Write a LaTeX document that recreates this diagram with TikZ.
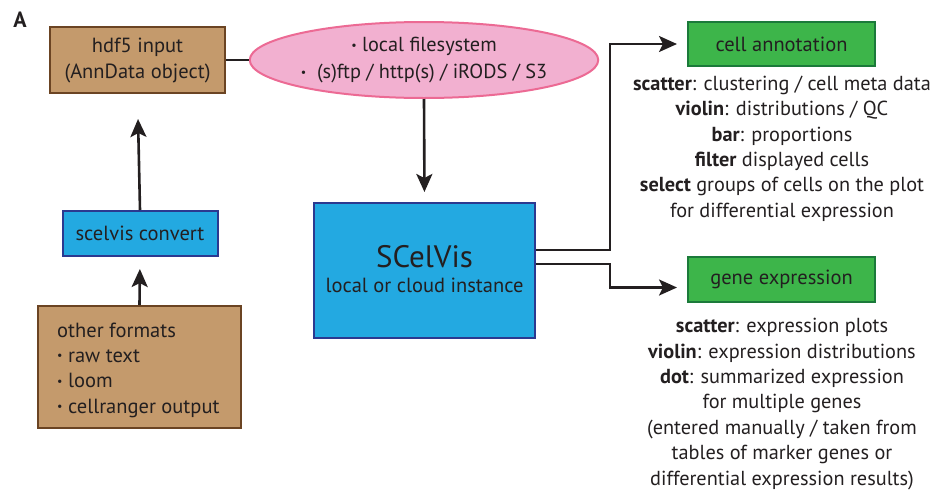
\documentclass[tikz,border=0pt]{standalone}
\usepackage{fontspec}
\setmainfont{PT Sans}
\usetikzlibrary{arrows.meta,shapes.geometric}
\definecolor{tanfill}{HTML}{C49A6C}
\definecolor{tanedge}{HTML}{6B4423}
\definecolor{pinkfill}{HTML}{F2B0D0}
\definecolor{pinkedge}{HTML}{EC6A94}
\definecolor{bluefill}{HTML}{23A9E1}
\definecolor{blueedge}{HTML}{2B3990}
\definecolor{greenfill}{HTML}{3DB54A}
\definecolor{greenedge}{HTML}{1B7A3A}
\definecolor{ink}{HTML}{231F20}
\newcommand\mybul{\raisebox{0.12em}{\fontsize{12}{12}\selectfont •}}
\tikzset{
  tanbox/.style={draw=tanedge,fill=tanfill,line width=2pt,inner sep=0pt,text=ink},
  bluebox/.style={draw=blueedge,fill=bluefill,line width=2pt,inner sep=0pt,text=ink},
  greenbox/.style={draw=greenedge,fill=greenfill,line width=2pt,inner sep=0pt,text=ink},
  conn/.style={draw=ink,line width=2.6pt,-{Stealth[length=18pt,width=16pt,inset=4pt]}},
  plain/.style={draw=ink,line width=2.6pt},
  desc/.style={align=center,text=ink,inner sep=0pt,font=\fontsize{20.3}{25.4}\selectfont}
}
\begin{document}
\begin{tikzpicture}[x=1pt,y=-1pt]
\useasboundingbox (0,0) rectangle (940,493);
\node[text=ink,font=\fontsize{22}{24}\selectfont\bfseries] (lbl) at (20,20) {A};
\node[tanbox,minimum width=175pt,minimum height=66pt,align=center,font=\fontsize{20.5}{26}\selectfont] (hd) at (137.5,60) {hdf5 input\\(AnnData object)};
\node[ellipse,draw=pinkedge,fill=pinkfill,line width=2pt,minimum width=308pt,minimum height=76pt,inner sep=0pt,align=center,text=ink,font=\fontsize{20.3}{27}\selectfont] (el) at (424,60) {\mybul\ local filesystem\\\mybul\ \ (s)ftp / http(s) / iRODS / S3};
\node[bluebox,minimum width=221pt,minimum height=135pt] (sc) at (424.5,270.5) {};
\node[text=ink,font=\fontsize{31}{34}\selectfont] (sct) at (424.5,257) {SCelVis};
\node[text=ink,font=\fontsize{20.5}{22}\selectfont] (scs) at (424.5,285) {local or cloud instance};
\node[greenbox,minimum width=187pt,minimum height=44pt,font=\fontsize{20.5}{22}\selectfont] (ca) at (781.5,44) {cell annotation};
\node[greenbox,minimum width=187pt,minimum height=45pt,font=\fontsize{20.5}{22}\selectfont] (ge) at (781.5,279.5) {gene expression};
\node[bluebox,minimum width=155pt,minimum height=45pt,font=\fontsize{20.5}{22}\selectfont] (cv) at (140,233.5) {scelvis convert};
\node[tanbox,minimum width=203pt,minimum height=122pt] (of) at (139.5,367) {};
\node[anchor=west,align=left,text=ink,font=\fontsize{20.5}{25.3}\selectfont,inner sep=0pt] (oft) at (57,370) {other formats\\\mybul\ raw text\\\mybul\ loom\\\mybul\ cellranger output};
\node[desc] (cad) at (782,148.5) {\textbf{scatter}: clustering / cell meta data\\\textbf{violin}: distributions / QC\\\textbf{bar}: proportions\\\textbf{filter} displayed cells\\\textbf{select} groups of cells on the plot\\for differential expression};
\node[desc] (ged) at (782,404) {\textbf{scatter}: expression plots\\\textbf{violin}: expression distributions\\\textbf{dot}: summarized expression\\for multiple genes\\(entered manually / taken from\\tables of marker genes or\\differential expression results)};
\draw[plain] (hd.east) -- (el.west);
\draw[conn,shorten >=10pt] (el.south) -- (sc.north);
\draw[conn,shorten >=10pt] ([yshift=20.5pt]sc.east) -- ++(74,0) |- (ca.west);
\draw[conn,shorten >=10pt] ([yshift=6.5pt]sc.east) -- ++(74,0) |- ([yshift=-8pt]ge.west);
\draw[conn,shorten >=25pt] (cv.north) -- (hd.south);
\draw[conn,shorten >=12pt] (of.north) -- (cv.south);
\end{tikzpicture}
\end{document}
